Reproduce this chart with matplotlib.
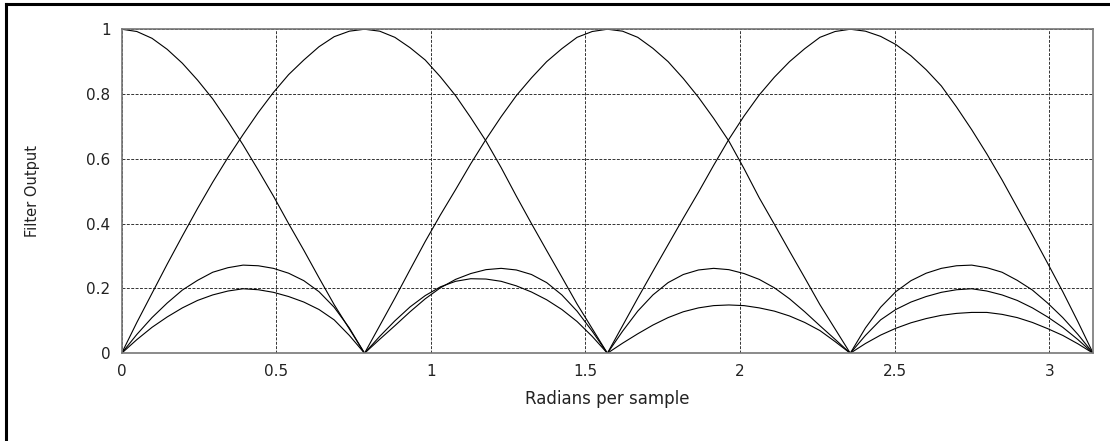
import numpy as np
import matplotlib.pyplot as plt
from matplotlib.lines import Line2D

# Frequency grid: 65 samples from 0 to pi (step pi/64)
omega = np.linspace(0, np.pi, 65)

# Magnitude response of each filter at the grid points above
filter0 = [1.0, 0.993, 0.972, 0.938, 0.895, 0.843, 0.785, 0.716, 0.643, 0.565, 0.485, 0.400, 0.318, 0.233, 0.150, 0.075, 0.0,
           0.052, 0.100, 0.143, 0.178, 0.205, 0.222, 0.230, 0.229, 0.222, 0.208, 0.189, 0.165, 0.135, 0.098, 0.052, 0.0,
           0.031, 0.060, 0.087, 0.110, 0.128, 0.140, 0.147, 0.149, 0.147, 0.140, 0.130, 0.115, 0.095, 0.070, 0.036, 0.0,
           0.030, 0.056, 0.077, 0.094, 0.107, 0.117, 0.123, 0.126, 0.126, 0.120, 0.110, 0.095, 0.076, 0.055, 0.029, 0.0]
filter1 = [0.0, 0.095, 0.185, 0.275, 0.362, 0.447, 0.528, 0.604, 0.675, 0.743, 0.805, 0.860, 0.905, 0.946, 0.977, 0.994, 1.0,
           0.994, 0.975, 0.943, 0.905, 0.853, 0.795, 0.727, 0.655, 0.573, 0.485, 0.400, 0.317, 0.235, 0.152, 0.076, 0.0,
           0.068, 0.130, 0.180, 0.218, 0.243, 0.257, 0.262, 0.258, 0.246, 0.228, 0.202, 0.168, 0.128, 0.085, 0.043, 0.0,
           0.055, 0.103, 0.135, 0.158, 0.175, 0.188, 0.196, 0.199, 0.192, 0.180, 0.163, 0.140, 0.112, 0.080, 0.042, 0.0]
filter2 = [0.0, 0.058, 0.110, 0.155, 0.195, 0.225, 0.250, 0.264, 0.272, 0.270, 0.262, 0.247, 0.224, 0.190, 0.142, 0.078, 0.0,
           0.085, 0.170, 0.258, 0.345, 0.427, 0.505, 0.585, 0.660, 0.730, 0.795, 0.850, 0.900, 0.940, 0.975, 0.993, 1.0,
           0.994, 0.975, 0.941, 0.900, 0.848, 0.790, 0.725, 0.655, 0.570, 0.480, 0.398, 0.315, 0.233, 0.150, 0.075, 0.0,
           0.078, 0.142, 0.190, 0.224, 0.247, 0.262, 0.270, 0.272, 0.264, 0.250, 0.225, 0.195, 0.155, 0.110, 0.058, 0.0]
filter3 = [0.0, 0.042, 0.080, 0.112, 0.140, 0.163, 0.180, 0.192, 0.199, 0.196, 0.188, 0.175, 0.158, 0.135, 0.103, 0.055, 0.0,
           0.043, 0.085, 0.128, 0.168, 0.202, 0.228, 0.246, 0.258, 0.262, 0.257, 0.243, 0.218, 0.180, 0.130, 0.068, 0.0,
           0.085, 0.170, 0.253, 0.335, 0.417, 0.497, 0.580, 0.660, 0.732, 0.797, 0.852, 0.900, 0.940, 0.975, 0.993, 1.0,
           0.994, 0.978, 0.953, 0.918, 0.875, 0.825, 0.760, 0.690, 0.615, 0.535, 0.450, 0.365, 0.278, 0.190, 0.097, 0.0]

xticks = [0, 0.5, 1, 1.5, 2, 2.5, 3]
yticks = [0, 0.2, 0.4, 0.6, 0.8, 1]

fig = plt.figure(figsize=(11.1, 4.41), dpi=100)
ax = fig.add_axes([0.1096, 0.199, 0.8752, 0.7347])

for resp in [filter0, filter1, filter2, filter3]:
    ax.plot(omega, resp, color='black', linewidth=0.8)

ax.set_xlim(0, np.pi)
ax.set_ylim(0, 1)
ax.set_xticks(xticks)
ax.set_xticklabels(['0', '0.5', '1', '1.5', '2', '2.5', '3'])
ax.set_yticks(yticks)
ax.set_yticklabels(['0', '0.2', '0.4', '0.6', '0.8', '1'])
ax.tick_params(length=0, labelsize=11, labelcolor='#222222', pad=8)
ax.grid(True, color='#333333', linestyle=(0, (3, 1.5)), linewidth=0.7)

for spine in ax.spines.values():
    spine.set_color('#777777')
    spine.set_linewidth(1.2)

ax.set_xlabel('Radians per sample', fontsize=12, color='#222222', labelpad=8)
ax.set_ylabel('Filter Output', fontsize=10.5, color='#222222', labelpad=33)

# Outer frame (left and top edges)
fig.add_artist(Line2D([6, 6], [0, 437], transform=None, color='black', linewidth=2.2))
fig.add_artist(Line2D([6, 1110], [437, 437], transform=None, color='black', linewidth=2.2))

plt.savefig('out.png', dpi=100)
